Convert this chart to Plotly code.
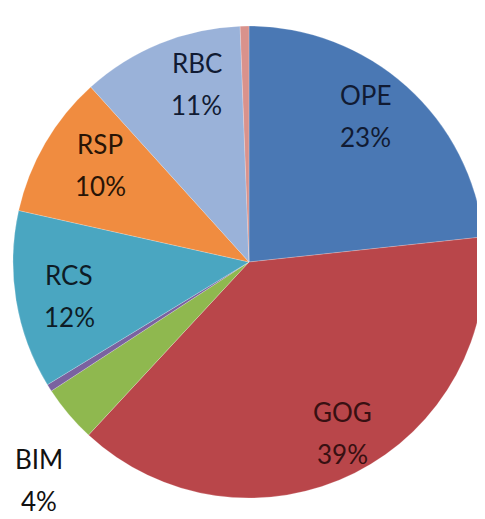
import math
import plotly.graph_objects as go

# Slices, clockwise from 12 o'clock
labels = ["OPE", "GOG", "BIM", "OTH1", "RCS", "RSP", "RBC", "OTH2"]
values = [23.3, 38.6, 3.9, 0.5, 12.2, 9.8, 11.1, 0.6]
shown = [True, True, True, False, True, True, True, False]

# styling
colors = ["#4a78b4", "#b9464a", "#8fb84f", "#7a62a0", "#4aa6c1", "#f08c40", "#9ab2d9", "#d9928c"]
text_colors = ["#111b33", "#381012", "#111111", "#111111", "#0e1c26", "#281406", "#111b33", "#111111"]
label_radius = [0.79, 0.825, 1.283, 0, 0.776, 0.753, 0.786, 0]
label_angle_shift = [-3.4, -1.9, -6.0, 0, -1.3, 2.9, 5.8, 0]

# page body has an 8px margin; figure sized to fill the remaining window
OFF = 8
W, H = 485 - OFF, 519 - OFF
r = 236
cx, cy = 249 - OFF, 262 - OFF

fig = go.Figure(go.Pie(
    labels=labels,
    values=values,
    sort=False,
    direction="clockwise",
    rotation=0,
    marker=dict(colors=colors, line=dict(color="rgba(255,255,255,0.35)", width=0.6)),
    textinfo="none",
    domain=dict(x=[max(0, (cx - r) / W), min(1, (cx + r) / W)],
                y=[max(0, 1 - (cy + r) / H), min(1, 1 - (cy - r) / H)]),
    showlegend=False,
    hoverinfo="label+percent",
))

total = sum(values)
cum = 0.0
for lab, v, s, tc, lr, sh in zip(labels, values, shown, text_colors, label_radius, label_angle_shift):
    mid = (cum + v / 2) / total * 2 * math.pi + math.radians(sh)
    cum += v
    if not s:
        continue
    d = lr * r
    px = cx + d * math.sin(mid)
    py = cy - d * math.cos(mid)
    pct = f"{round(v / total * 100):.0f}%"
    for txt, dy in ((lab, -21), (pct, 21)):
        fig.add_annotation(
            x=px / W, y=1 - py / H, xref="paper", yref="paper",
            text=txt, showarrow=False, yshift=-dy,
            xanchor="center", yanchor="middle",
            font=dict(family="Lato", size=26, color=tc),
        )

fig.update_layout(
    width=W, height=H,
    margin=dict(l=0, r=0, t=0, b=0),
    paper_bgcolor="white",
    plot_bgcolor="white",
)

fig.write_html("out.html")
